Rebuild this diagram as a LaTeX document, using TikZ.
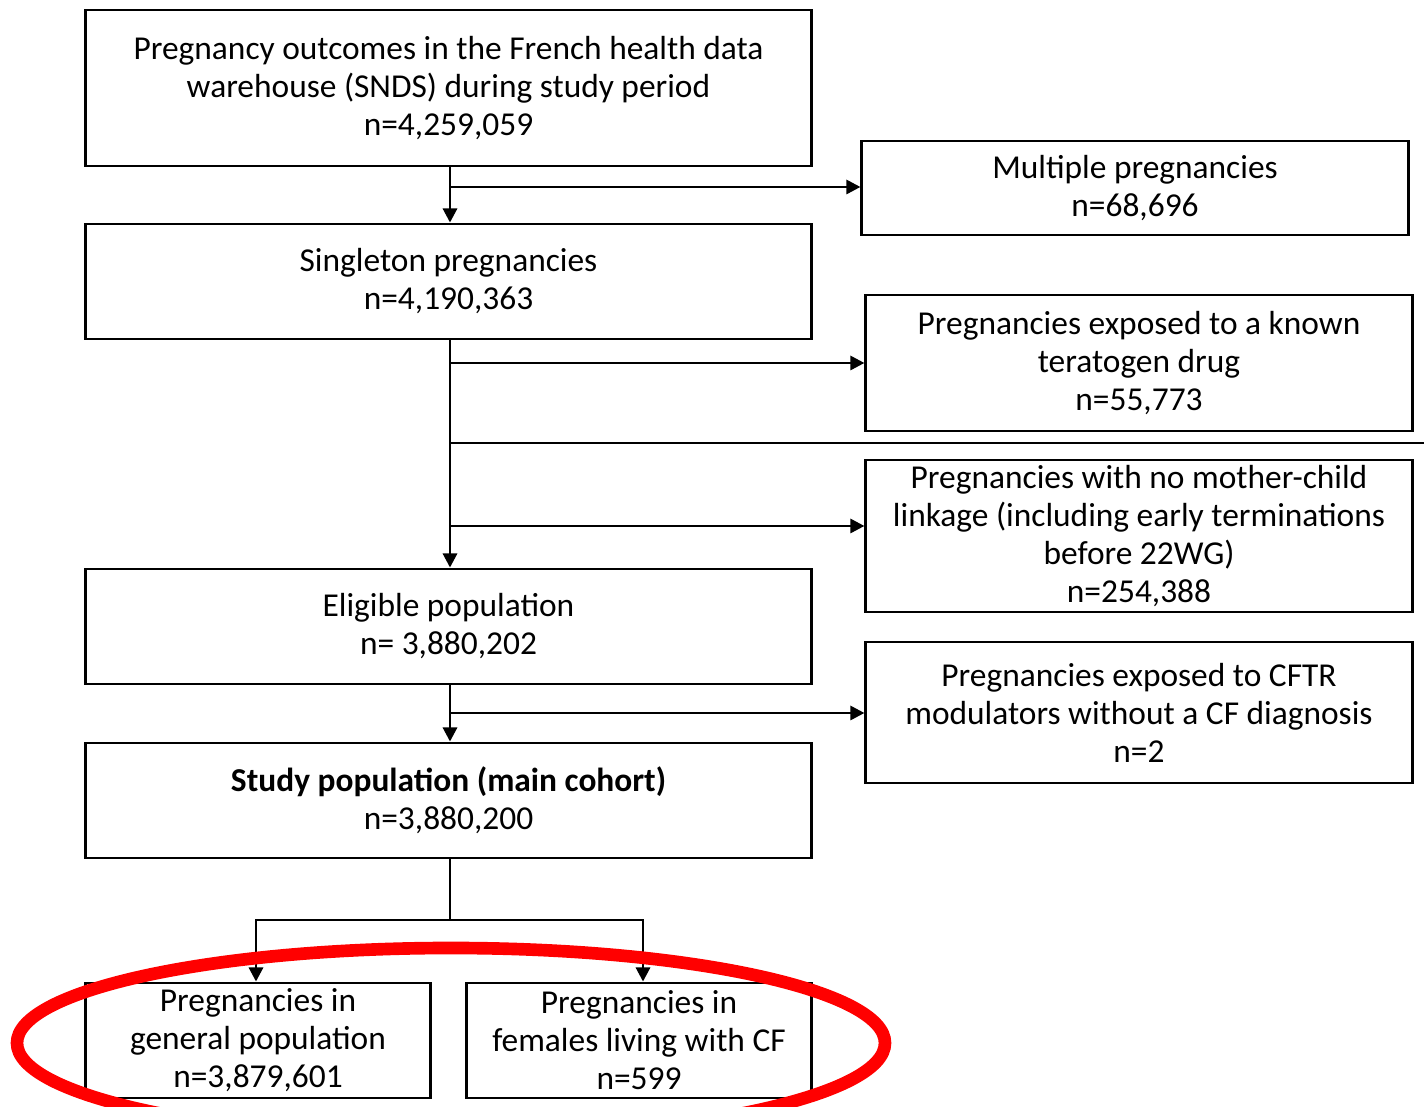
\documentclass[tikz,border=0pt]{standalone}
\usepackage{fontspec}
\setmainfont{Carlito}
\usetikzlibrary{arrows.meta}

\begin{document}
\begin{tikzpicture}[x=0.01cm,y=-0.01cm,line width=0.8pt,
    box/.style={draw,align=center,inner sep=0pt,font=\fontsize{9.5}{10.8}\selectfont},
    arr/.style={-{Triangle[length=4pt,width=4pt]}}]
    \useasboundingbox (0,0) rectangle (1424,1107);
    % left column
    \node[box,minimum width=7.25cm,minimum height=1.56cm] (outcomes) at (448.5,88)
        {Pregnancy outcomes in the French health data\\warehouse (SNDS) during study period\\n=4,259,059};
    \node[box,minimum width=7.25cm,minimum height=1.15cm] (singleton) at (448.5,281.5)
        {Singleton pregnancies\\n=4,190,363};
    \node[box,minimum width=7.25cm,minimum height=1.15cm] (eligible) at (448.5,626.5)
        {Eligible population\\n= 3,880,202};
    \node[box,minimum width=7.25cm,minimum height=1.15cm] (study) at (448.5,800.5)
        {\textbf{Study population (main cohort)}\\n=3,880,200};
    \node[box,minimum width=3.44cm,minimum height=1.15cm] (general) at (258,1040.5)
        {Pregnancies in\\general population\\n=3,879,601};
    \node[box,minimum width=3.44cm,minimum height=1.15cm] (females) at (639,1040.5)
        {Pregnancies in\\females living with CF\\n=599};
    % exclusions
    \node[box,minimum width=5.46cm,minimum height=0.94cm] (multiple) at (1135,188)
        {Multiple pregnancies\\n=68,696};
    \node[box,minimum width=5.46cm,minimum height=1.36cm] (teratogen) at (1139,363)
        {Pregnancies exposed to a known\\teratogen drug\\n=55,773};
    \node[box,minimum width=5.46cm,minimum height=1.52cm] (linkage) at (1139,536)
        {Pregnancies with no mother-child\\linkage (including early terminations\\before 22WG)\\n=254,388};
    \node[box,minimum width=5.46cm,minimum height=1.41cm] (cftr) at (1139,712.5)
        {Pregnancies exposed to CFTR\\modulators without a CF diagnosis\\n=2};
    \coordinate (edge) at (1424,443);
    % connectors
    \draw[arr] (outcomes.south -| 450,0) -- (singleton.north -| 450,0);
    \draw[arr] (450,187) -- (multiple.west |- 450,187);
    \draw[arr] (singleton.south -| 450,0) -- (eligible.north -| 450,0);
    \draw[arr] (450,363) -- (teratogen.west |- 450,363);
    \draw (450,443) -- (edge);
    \draw[arr] (450,526) -- (linkage.west |- 450,526);
    \draw[arr] (eligible.south -| 450,0) -- (study.north -| 450,0);
    \draw[arr] (450,713) -- (cftr.west |- 450,713);
    \draw (study.south -| 450,0) -- (450,920);
    \draw[arr] (450,920) -| (general.north -| 256,0);
    \draw[arr] (450,920) -| (females.north -| 643,0);
    % highlight
    \draw[red,line width=3.6pt] (451,1043) ellipse [x radius=434,y radius=95];
\end{tikzpicture}
\end{document}
